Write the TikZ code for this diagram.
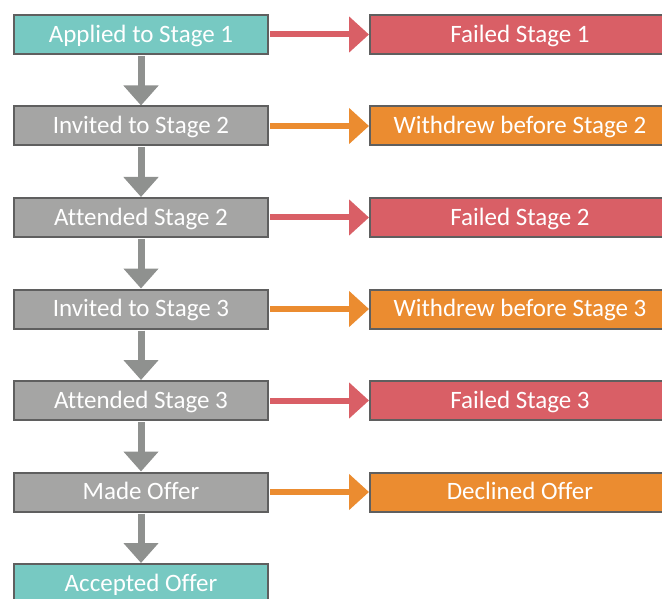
\documentclass[tikz,border=0pt]{standalone}
\usepackage{fontspec}
\setmainfont[Ligatures={NoCommon}]{Carlito}
\usetikzlibrary{arrows.meta}
\definecolor{tealc}{HTML}{77C9C2}
\definecolor{grayc}{HTML}{A5A5A4}
\definecolor{redc}{HTML}{D95F66}
\definecolor{orangec}{HTML}{EB8C30}
\definecolor{borderc}{HTML}{5F5F5F}
\definecolor{arrowc}{HTML}{8F918F}
\tikzset{
  box/.style={draw=borderc, line width=2pt, minimum height=39pt, inner sep=0pt,
    text=white, font=\fontsize{25}{27}\selectfont, text height=15.5pt, text depth=0pt},
  lbox/.style={box, minimum width=254pt},
  rbox/.style={box, minimum width=300pt},
  downarr/.style={draw=arrowc, line width=7pt, -{Triangle[width=34pt,length=20pt]}, shorten <=1pt},
  redarr/.style={draw=redc, line width=6pt, -{Triangle[width=35pt,length=20pt]}, shorten <=1pt},
  orarr/.style={draw=orangec, line width=6pt, -{Triangle[width=35pt,length=20pt]}, shorten <=1pt},
}
\begin{document}
\begin{tikzpicture}[x=1pt,y=-1pt]
\useasboundingbox (0,0) rectangle (662,599);
\begin{scope}
\clip (0,0) rectangle (662,599);
\node[lbox, fill=tealc] (a1) at (141,34.5) {Applied to Stage 1};
\node[lbox, fill=grayc] (a2) at (141,126) {Invited to Stage 2};
\node[lbox, fill=grayc] (a3) at (141,217.5) {Attended Stage 2};
\node[lbox, fill=grayc] (a4) at (141,309) {Invited to Stage 3};
\node[lbox, fill=grayc] (a5) at (141,400.5) {Attended Stage 3};
\node[lbox, fill=grayc] (a6) at (141,492) {Made Offer};
\node[lbox, fill=tealc] (a7) at (141,583.5) {Accepted Offer};

\node[rbox, fill=redc] (b1) at (520,34.5) {Failed Stage 1};
\node[rbox, fill=orangec] (b2) at (520,126) {Withdrew before Stage 2};
\node[rbox, fill=redc] (b3) at (520,217.5) {Failed Stage 2};
\node[rbox, fill=orangec] (b4) at (520,309) {Withdrew before Stage 3};
\node[rbox, fill=redc] (b5) at (520,400.5) {Failed Stage 3};
\node[rbox, fill=orangec] (b6) at (520,492) {Declined Offer};

\draw[downarr] (a1.south) -- (a2.north);
\draw[downarr] (a2.south) -- (a3.north);
\draw[downarr] (a3.south) -- (a4.north);
\draw[downarr] (a4.south) -- (a5.north);
\draw[downarr] (a5.south) -- (a6.north);
\draw[downarr] (a6.south) -- (a7.north);

\draw[redarr] (a1.east) -- (b1.west);
\draw[orarr] (a2.east) -- (b2.west);
\draw[redarr] (a3.east) -- (b3.west);
\draw[orarr] (a4.east) -- (b4.west);
\draw[redarr] (a5.east) -- (b5.west);
\draw[orarr] (a6.east) -- (b6.west);
\end{scope}
\end{tikzpicture}
\end{document}
